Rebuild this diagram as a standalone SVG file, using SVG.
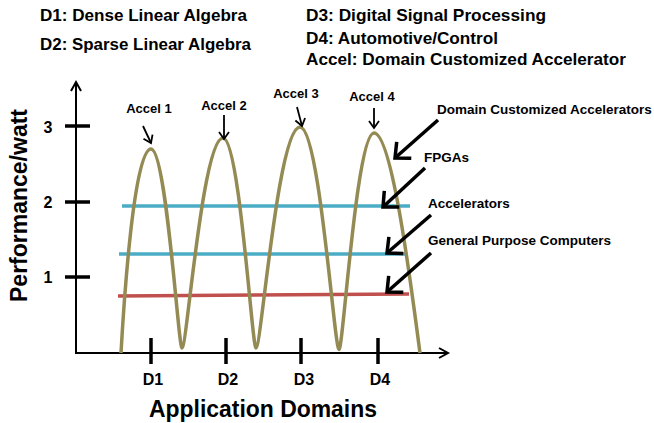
<svg xmlns="http://www.w3.org/2000/svg" width="654" height="423" viewBox="0 0 654 423">
<style>
text{font-family:"Liberation Sans",Arial,sans-serif;font-weight:bold;fill:#000}
.hdr{font-size:17px}
.pk{font-size:13px;text-anchor:middle}
.lbl{font-size:13.5px}
.dom{font-size:16px;text-anchor:middle}
.num{font-size:16px;text-anchor:middle}
.title{font-size:23px}
.axis{stroke:#000;stroke-width:2;fill:none}
.tick{stroke:#000;stroke-width:3.5}
.big{stroke:#000;stroke-width:3.5;fill:none}
.small{stroke:#000;stroke-width:1.8;fill:none}
</style>
<defs>
<marker id="ah-axis" markerUnits="userSpaceOnUse" viewBox="-12 -8 14 16" refX="0" refY="0" markerWidth="14" markerHeight="16" orient="auto" overflow="visible">
<path d="M-9,-5 L0,0 L-9,5" fill="none" stroke="#000" stroke-width="2"/>
</marker>
<marker id="ah-big" markerUnits="userSpaceOnUse" viewBox="-16 -14 20 28" refX="0" refY="0" markerWidth="20" markerHeight="28" orient="auto" overflow="visible">
<path d="M-12,-11 L0,0 L-12,11" fill="none" stroke="#000" stroke-width="3.5"/>
</marker>
<marker id="ah-small" markerUnits="userSpaceOnUse" viewBox="-9 -7 11 14" refX="0" refY="0" markerWidth="11" markerHeight="14" orient="auto" overflow="visible">
<path d="M-7,-5 L0,0 L-7,5" fill="none" stroke="#000" stroke-width="1.8"/>
</marker>
</defs>

<g id="legend">
<text class="hdr" x="40" y="21" textLength="207" lengthAdjust="spacingAndGlyphs">D1: Dense Linear Algebra</text>
<text class="hdr" x="40" y="50" textLength="211" lengthAdjust="spacingAndGlyphs">D2: Sparse Linear Algebra</text>
<text class="hdr" x="306" y="21" textLength="240" lengthAdjust="spacingAndGlyphs">D3: Digital Signal Processing</text>
<text class="hdr" x="306" y="44" textLength="192" lengthAdjust="spacingAndGlyphs">D4: Automotive/Control</text>
<text class="hdr" x="306" y="65" textLength="320" lengthAdjust="spacingAndGlyphs">Accel: Domain Customized Accelerator</text>
</g>

<g id="axes">
<line class="axis" x1="76" y1="353" x2="76" y2="82" marker-end="url(#ah-axis)"/>
<line class="axis" x1="75" y1="353" x2="448" y2="353" marker-end="url(#ah-axis)"/>
<line class="tick" x1="65" y1="126" x2="90" y2="126"/>
<line class="tick" x1="65" y1="202" x2="90" y2="202"/>
<line class="tick" x1="65" y1="277" x2="90" y2="277"/>
<line class="tick" x1="151" y1="338" x2="151" y2="364"/>
<line class="tick" x1="226" y1="338" x2="226" y2="364"/>
<line class="tick" x1="301" y1="338" x2="301" y2="364"/>
<line class="tick" x1="378" y1="338" x2="378" y2="364"/>
<text class="num" x="48" y="133">3</text>
<text class="num" x="48" y="208">2</text>
<text class="num" x="48" y="283">1</text>
<text class="dom" x="153" y="385">D1</text>
<text class="dom" x="228" y="385">D2</text>
<text class="dom" x="304" y="385">D3</text>
<text class="dom" x="380" y="385">D4</text>
<text class="title" x="149" y="417" textLength="228" lengthAdjust="spacingAndGlyphs">Application Domains</text>
<text class="title" transform="translate(27,302) rotate(-90)" x="0" y="0" textLength="193" lengthAdjust="spacingAndGlyphs">Performance/watt</text>
</g>

<g id="series">
<g id="fpgas-line"><line x1="122" y1="206" x2="410" y2="206" stroke="#4BACC6" stroke-width="3.5"/></g>
<g id="accelerators-line"><line x1="119" y1="254" x2="407" y2="254" stroke="#4BACC6" stroke-width="3.5"/></g>
<g id="gpc-line"><line x1="118" y1="296" x2="409" y2="294" stroke="#C0504D" stroke-width="3.5"/></g>
<g id="dca-wave"><path d="M121,353 C124,300 134,149 151,149 C166.5,149 178.3,348 182,348 C186.9,348 202.5,138 223,138 C239.5,138 252,348 256,348 C261.3,348 278,127 300,127 C319.5,127 334.3,349.5 339,349.5 C343.2,349.5 356.5,133 374,133 C392,133 411,285 420,353" fill="none" stroke="#948A54" stroke-width="3.5" stroke-linejoin="round"/></g>
</g>

<g id="accel-labels">
<text class="pk" x="149" y="113">Accel 1</text>
<text class="pk" x="224" y="110">Accel 2</text>
<text class="pk" x="296" y="98">Accel 3</text>
<text class="pk" x="372" y="101">Accel 4</text>
</g>

<g id="series-labels">
<text class="lbl" x="437" y="114">Domain Customized Accelerators</text>
<text class="lbl" x="424" y="162">FPGAs</text>
<text class="lbl" x="428" y="208">Accelerators</text>
<text class="lbl" x="428" y="245">General Purpose Computers</text>
</g>

<g id="connectors">
<line class="small" x1="143" y1="126" x2="151" y2="143" marker-end="url(#ah-small)"/>
<line class="small" x1="224" y1="115" x2="224" y2="139" marker-end="url(#ah-small)"/>
<line class="small" x1="297" y1="107" x2="302" y2="126" marker-end="url(#ah-small)"/>
<line class="small" x1="374" y1="108" x2="374" y2="128" marker-end="url(#ah-small)"/>
<line class="big" x1="438" y1="120" x2="395" y2="158" marker-end="url(#ah-big)"/>
<line class="big" x1="425" y1="168" x2="383" y2="207" marker-end="url(#ah-big)"/>
<line class="big" x1="431" y1="215" x2="387" y2="253" marker-end="url(#ah-big)"/>
<line class="big" x1="431" y1="253" x2="387" y2="292" marker-end="url(#ah-big)"/>
</g>
</svg>
